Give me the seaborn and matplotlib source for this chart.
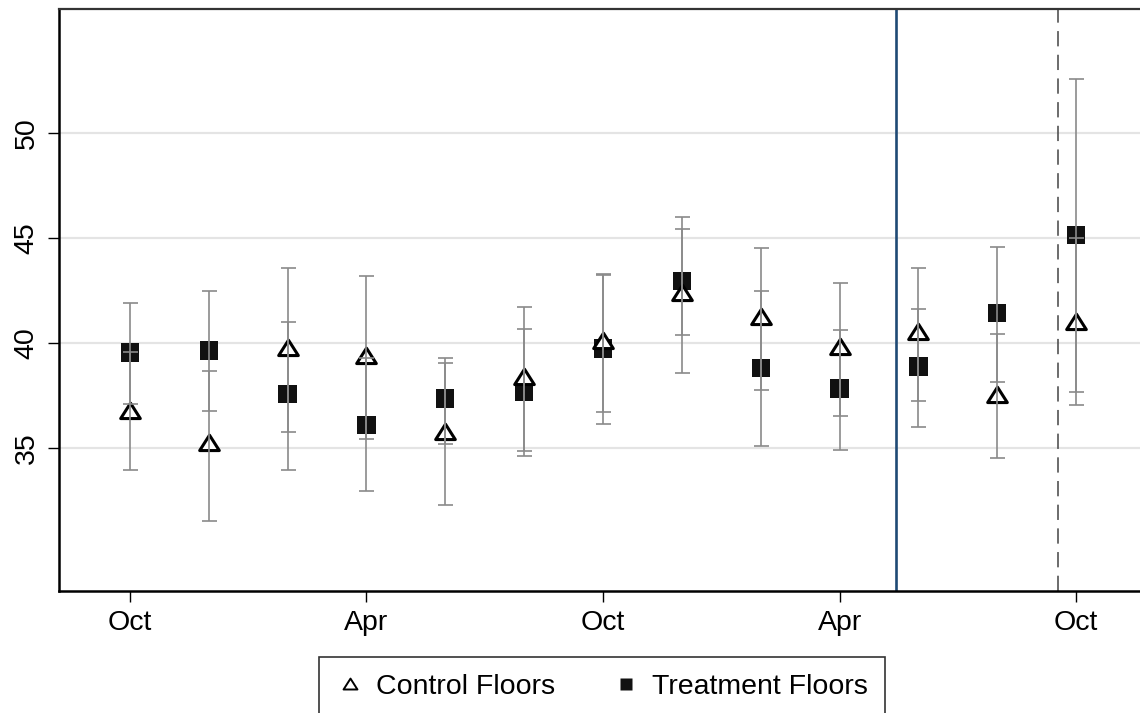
import numpy as np
import pandas as pd
import matplotlib
matplotlib.use("Agg")
import matplotlib.pyplot as plt
import seaborn as sns
from matplotlib.lines import Line2D
from matplotlib.path import Path

# survey waves, in months after the first October
months = [0, 2, 4, 6, 8, 10, 12, 14, 16, 18, 20, 22, 24]

control_mean = [36.8, 35.25, 39.76, 39.4, 35.77, 38.41, 40.1, 42.4, 41.27, 39.84, 40.52, 37.54, 41.03]
control_lo = [34.0, 31.57, 35.78, 35.44, 32.31, 34.88, 36.73, 38.57, 37.78, 36.56, 37.27, 34.53, 37.05]
control_hi = [39.6, 38.67, 43.6, 43.2, 39.08, 41.74, 43.23, 46.0, 44.51, 42.88, 43.56, 40.43, 45.0]

treat_mean = [39.57, 39.65, 37.59, 36.12, 37.37, 37.7, 39.76, 42.96, 38.83, 37.86, 38.89, 41.45, 45.15]
treat_lo = [37.1, 36.78, 34.0, 32.98, 35.21, 34.64, 36.16, 40.4, 35.12, 34.93, 36.04, 38.15, 37.7]
treat_hi = [41.9, 42.5, 41.01, 39.3, 39.32, 40.69, 43.3, 45.42, 42.49, 40.63, 41.62, 44.56, 52.55]

tick_months = [0, 6, 12, 18, 24]
tick_labels = ["Oct", "Apr", "Oct", "Apr", "Oct"]
y_ticks = [35, 40, 45, 50]

start_line = 19.43   # solid blue marker
end_line = 23.55     # dashed marker

df = pd.DataFrame({
    "month": months * 2,
    "mean": control_mean + treat_mean,
    "lo": control_lo + treat_lo,
    "hi": control_hi + treat_hi,
    "group": ["Control Floors"] * len(months) + ["Treatment Floors"] * len(months),
})

sns.set_style("ticks")
plt.rcParams["font.family"] = ["Liberation Sans", "DejaVu Sans"]
plt.rcParams["text.color"] = "black"
plt.rcParams["xtick.color"] = "black"
plt.rcParams["ytick.color"] = "black"

fig = plt.figure(figsize=(11.4, 7.13), dpi=100)
ax = fig.add_axes([59.3 / 1140, 0.1715, (1155 - 59.3) / 1140, 0.8159])

for y in y_ticks:
    ax.axhline(y, color="#e4e4e4", lw=1.6, zorder=0)

# flat hollow triangle, closed path
tri = Path([(-1, -0.72), (1, -0.72), (0, 0.85), (-1, -0.72)],
           [Path.MOVETO, Path.LINETO, Path.LINETO, Path.CLOSEPOLY])
ctrl = df[df.group == "Control Floors"]
trt = df[df.group == "Treatment Floors"]

sns.scatterplot(data=trt, x="month", y="mean", marker="s", s=175, color="#111111",
                edgecolor="none", ax=ax, zorder=3, legend=False)
sns.scatterplot(data=ctrl, x="month", y="mean", marker=tri, s=200, facecolor="white",
                edgecolor="black", linewidth=2.2, ax=ax, zorder=4, legend=False)

for sub in (ctrl, trt):
    ax.errorbar(sub["month"], sub["mean"],
                yerr=[sub["mean"] - sub["lo"], sub["hi"] - sub["mean"]],
                fmt="none", ecolor="#8a8a8a", elinewidth=1.2, capsize=5.4,
                capthick=1.2, zorder=5)

ax.axvline(start_line, color="#1f4a75", lw=1.9, zorder=2)
ax.axvline(end_line, color="#444444", lw=1.1, dashes=(10, 5.5), zorder=2)

ax.set_xlim(-1.79, 26)
ax.set_ylim(28.24, 55.89)
ax.set_xticks(tick_months)
ax.set_xticklabels(tick_labels)
ax.set_yticks(y_ticks)
ax.set_yticklabels([str(v) for v in y_ticks], rotation=90, va="center")
ax.set_xlabel("")
ax.set_ylabel("")
ax.tick_params(axis="both", labelsize=20.5, length=8, width=1, color="black",
               labelcolor="black")
ax.tick_params(axis="x", pad=6)
ax.tick_params(axis="y", pad=6)

for side in ("left", "bottom"):
    ax.spines[side].set_linewidth(1.8)
    ax.spines[side].set_color("black")
ax.spines["top"].set_linewidth(1.6)
ax.spines["top"].set_color("#333333")
ax.spines["right"].set_visible(False)

handles = [
    Line2D([], [], ls="none", marker=tri, ms=10, mfc="white", mec="black", mew=1.4,
           label="Control Floors"),
    Line2D([], [], ls="none", marker="s", ms=8.5, mfc="#111111", mec="none",
           label="Treatment Floors"),
]
leg = fig.legend(handles=handles, loc="upper center", bbox_to_anchor=(0.528, 0.0785),
                 ncol=2, fontsize=20.5, frameon=True, fancybox=False, borderpad=0.6,
                 handlelength=1.0, handletextpad=0.4, columnspacing=2.0,
                 borderaxespad=0)
leg.get_frame().set_edgecolor("black")
leg.get_frame().set_linewidth(1.2)
for t in leg.get_texts():
    t.set_color("black")

fig.savefig("out.png", dpi=100)
